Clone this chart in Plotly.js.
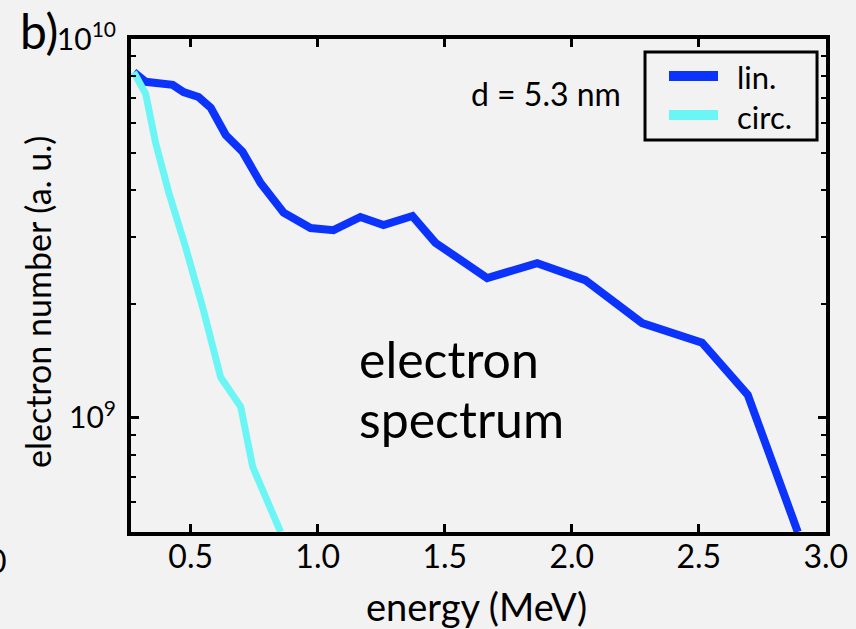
<!DOCTYPE html>
<html>
<head>
<meta charset="utf-8">
<script src="https://cdn.plot.ly/plotly-3.0.1.min.js"></script>
<style>
html, body { margin: 0; padding: 0; background: #f2f2f2; }
#chart { width: 856px; height: 629px; }
</style>
</head>
<body>
<div id="chart"></div>
<script>
// Energy (MeV) and electron number (a.u.)
const linEnergy = [0.276, 0.323, 0.429, 0.472, 0.531, 0.579, 0.638, 0.704, 0.775, 0.866, 0.972, 1.062, 1.168, 1.259, 1.373, 1.463, 1.667, 1.864, 2.053, 2.277, 2.513, 2.693, 2.890];
const linNumber = [8.18e9, 7.71e9, 7.57e9, 7.24e9, 7.03e9, 6.58e9, 5.58e9, 5.04e9, 4.17e9, 3.48e9, 3.17e9, 3.13e9, 3.39e9, 3.23e9, 3.41e9, 2.90e9, 2.34e9, 2.56e9, 2.31e9, 1.78e9, 1.58e9, 1.15e9, 5.0e8];

const circEnergy = [0.276, 0.323, 0.362, 0.414, 0.480, 0.547, 0.618, 0.697, 0.744, 0.854];
const circNumber = [8.18e9, 7.16e9, 5.32e9, 3.93e9, 2.82e9, 1.96e9, 1.28e9, 1.07e9, 7.43e8, 5.0e8];

const seriesNames = ['lin.', 'circ.'];
const seriesColors = ['#0b33fb', '#6cf5f5'];

const xTickVals = [0.5, 1.0, 1.5, 2.0, 2.5, 3.0];
const xTickText = ['0.5', '1.0', '1.5', '2.0', '2.5', '3.0'];
const yTickVals = [1e9, 1e10];
const yTickText = ['10<sup>9</sup>', '10<sup>10</sup>'];
const yMinorVals = [6e8, 7e8, 8e8, 9e8, 2e9, 3e9, 4e9, 5e9, 6e9, 7e9, 8e9, 9e9];

const FONT = 'Lato, "Open Sans", sans-serif';
const BG = '#f2f2f2';

const traces = [
  { x: linEnergy, y: linNumber, name: seriesNames[0], type: 'scatter', mode: 'lines',
    line: { color: seriesColors[0], width: 8 } },
  { x: circEnergy, y: circNumber, name: seriesNames[1], type: 'scatter', mode: 'lines',
    line: { color: seriesColors[1], width: 7 } }
];

// legend drawn as a framed box in paper coordinates
const legendShapes = [
  { type: 'rect', xref: 'paper', yref: 'paper', x0: 0.7396, x1: 0.9871, y0: 0.7951, y1: 0.9736,
    line: { color: '#000', width: 3 }, fillcolor: BG, layer: 'above' },
  { type: 'line', xref: 'paper', yref: 'paper', x0: 0.7741, x1: 0.8446, y0: 0.9249, y1: 0.9249,
    line: { color: seriesColors[0], width: 10 }, layer: 'above' },
  { type: 'line', xref: 'paper', yref: 'paper', x0: 0.7741, x1: 0.8446, y0: 0.8459, y1: 0.8459,
    line: { color: seriesColors[1], width: 10 }, layer: 'above' }
];

const layout = {
  width: 856, height: 629,
  paper_bgcolor: BG, plot_bgcolor: BG,
  margin: { l: 131, r: 30, t: 39, b: 97 },
  font: { family: FONT, color: '#000' },
  showlegend: false,
  xaxis: {
    range: [0.265, 3.001], type: 'linear',
    tickmode: 'array', tickvals: xTickVals, ticktext: xTickText,
    ticks: 'inside', ticklen: 8, tickwidth: 3, tickcolor: '#000',
    showline: true, linecolor: '#000', linewidth: 4, mirror: 'ticks',
    showgrid: false, zeroline: false,
    tickfont: { family: FONT, size: 32, color: '#000' },
    ticklabelstandoff: -6
  },
  yaxis: {
    type: 'log', range: [Math.log10(5e8), 10],
    tickmode: 'array', tickvals: yTickVals, ticktext: yTickText,
    ticks: 'inside', ticklen: 8, tickwidth: 3, tickcolor: '#000',
    minor: { tickmode: 'array', tickvals: yMinorVals, ticks: 'inside', ticklen: 5, tickwidth: 2, tickcolor: '#000', showgrid: false },
    showline: true, linecolor: '#000', linewidth: 4, mirror: 'ticks',
    showgrid: false, zeroline: false,
    tickfont: { family: FONT, size: 30, color: '#000' },
    ticklabelstandoff: 5
  },
  shapes: legendShapes,
  annotations: [
    { xref: 'paper', yref: 'paper', x: 0.4965, y: -0.1501, xanchor: 'center', yanchor: 'middle',
      text: 'energy (MeV)', showarrow: false,
      font: { family: FONT, size: 38, color: '#000' } },
    { xref: 'paper', yref: 'paper', x: -0.1353, y: 0.4665, xanchor: 'center', yanchor: 'middle',
      text: 'electron number (a. u.)', textangle: -90, showarrow: false,
      font: { family: FONT, size: 34, color: '#000' } },
    { xref: 'paper', yref: 'paper', x: 0.325, y: 0.351, xanchor: 'left', yanchor: 'middle',
      text: 'electron', showarrow: false,
      font: { family: FONT, size: 50, color: '#000' } },
    { xref: 'paper', yref: 'paper', x: 0.325, y: 0.2292, xanchor: 'left', yanchor: 'middle',
      text: 'spectrum', showarrow: false,
      font: { family: FONT, size: 50, color: '#000' } },
    { xref: 'paper', yref: 'paper', x: 0.597, y: 0.890, xanchor: 'center', yanchor: 'middle',
      text: 'd = 5.3 nm', showarrow: false,
      font: { family: FONT, size: 32, color: '#000' } },
    { xref: 'paper', yref: 'paper', x: 0.8691, y: 0.922, xanchor: 'left', yanchor: 'middle',
      text: seriesNames[0], showarrow: false,
      font: { family: FONT, size: 31, color: '#000' } },
    { xref: 'paper', yref: 'paper', x: 0.8691, y: 0.841, xanchor: 'left', yanchor: 'middle',
      text: seriesNames[1], showarrow: false,
      font: { family: FONT, size: 31, color: '#000' } },
    { xref: 'paper', yref: 'paper', x: -0.1324, y: 1.0791, xanchor: 'center', yanchor: 'top',
      text: 'b)', showarrow: false,
      font: { family: FONT, size: 48, color: '#000' } },
    { xref: 'paper', yref: 'paper', x: -0.176, y: -0.058, xanchor: 'right', yanchor: 'middle',
      text: '0', showarrow: false,
      font: { family: FONT, size: 32, color: '#000' } }
  ]
};

Plotly.newPlot('chart', traces, layout, { displayModeBar: false, staticPlot: true });
</script>
</body>
</html>
